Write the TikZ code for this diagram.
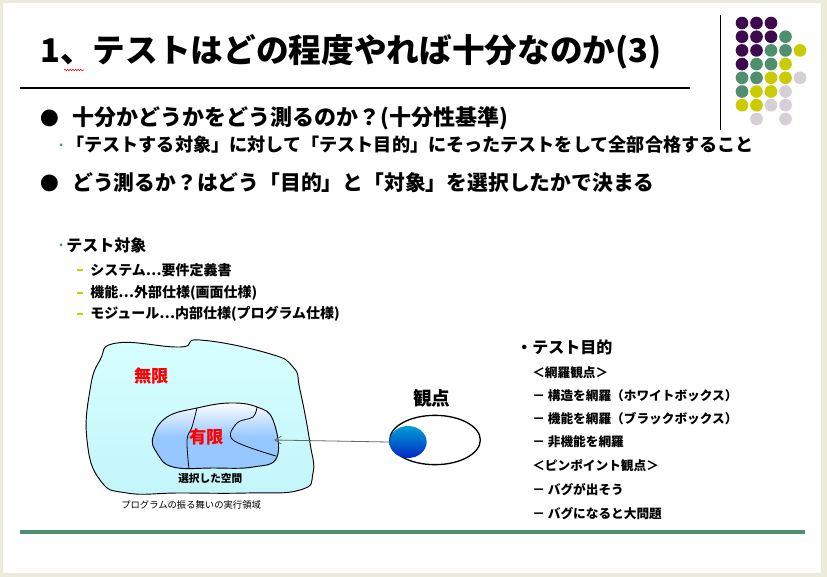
\documentclass[tikz,border=0pt]{standalone}
\usepackage{fontspec}
\setmainfont{Noto Sans CJK JP}
\usetikzlibrary{arrows.meta,decorations.pathmorphing,shapes.geometric}
\definecolor{dp}{HTML}{3D0A4E}
\definecolor{dg}{HTML}{4E8F6E}
\definecolor{dy}{HTML}{C8CC00}
\definecolor{dl}{HTML}{D4D0D6}
\tikzset{
  t/.style={anchor=west,inner sep=0pt,font=\bfseries},
  dot/.style={circle,inner sep=0pt,minimum size=9.5pt},
}
\begin{document}
\begin{tikzpicture}[x=0.75pt,y=-0.75pt]
\fill[fill={rgb,255:red,236;green,235;blue,217}] (0,0) rectangle (827,577);
\fill[white] (3,3) rectangle (821,573);
\useasboundingbox (0,0) rectangle (827,577);
% title
\node[t,font=\bfseries\fontsize{24.5}{28}\selectfont] (title) at (40,52) {1、テストはどの程度やれば十分なのか(3)};
\draw[red,decorate,decoration={snake,segment length=2pt,amplitude=0.6pt}] (64,70) -- (84,70);
\draw[line width=0.8pt] (20,88) -- (690,88);
\draw[line width=0.6pt] (720,15) -- (720,130);
% dots
\foreach \r/\cols in {1/{dp,dp,dp},2/{dp,dp,dp,dg},3/{dp,dp,dg,dg,dy},4/{dp,dg,dg,dy},5/{dg,dg,dy,dy,dl},6/{dg,dy,dy,dl},7/{dy,dy,dl,dl}}{
  \foreach \c [count=\i] in \cols {
    \node[dot,fill=\c] (d\r\i) at ({742+14.5*(\i-1)},{23+13.7*(\r-1)}) {};
  }}
\node[dot,fill=dl] (d82) at (756.5,119) {};
\node[dot,fill=dl] (d84) at (785.5,119) {};
% bullets
\node[t,font=\fontsize{14}{16}\selectfont] (b1) at (40,118) {●};
\node[t,font=\bfseries\fontsize{16.5}{18}\selectfont] (l1) at (72,118) {十分かどうかをどう測るのか？(十分性基準)};
\node[t,font=\fontsize{8}{8}\selectfont,text=dg] (b2) at (59,146) {•};
\node[t,font=\bfseries\fontsize{13.6}{16}\selectfont] (l2) at (66,145) {「テストする対象」に対して「テスト目的」にそったテストをして全部合格すること};
\node[t,font=\fontsize{14}{16}\selectfont] (b3) at (40,183) {●};
\node[t,font=\bfseries\fontsize{15.6}{18}\selectfont] (l3) at (72,183) {どう測るか？はどう「目的」と「対象」を選択したかで決まる};
% test target
\node[t,font=\fontsize{8}{8}\selectfont,text=dg] (b4) at (59,246) {•};
\node[t,font=\bfseries\fontsize{12}{14}\selectfont] (tt) at (66,245) {テスト対象};
\foreach \y/\s [count=\k] in {270/{システム…要件定義書},293/{機能…外部仕様(画面仕様)},314/{モジュール…内部仕様(プログラム仕様)}}{
  \node[t,text=dy] (td\k) at (77,\y) {\rule[-0.4pt]{4.5pt}{0.9pt}};
  \node[t,font=\bfseries\fontsize{10.5}{12}\selectfont] (ti\k) at (90,\y) {\s};
}
% test purpose
\node[t,font=\bfseries\fontsize{12}{14}\selectfont] (tp) at (516,347) {・テスト目的};
\foreach \y/\s [count=\k] in {373/{＜網羅観点＞},396/{－ 構造を網羅（ホワイトボックス）},419/{－ 機能を網羅（ブラックボックス）},442/{－ 非機能を網羅},466/{＜ピンポイント観点＞},490/{－ バグが出そう},514/{－ バグになると大問題}}{
  \node[t,font=\bfseries\fontsize{9.5}{12}\selectfont] (tp\k) at (532,\y) {\s};
}
% bottom line
\draw[line width=3pt,color=dg] (20,532) -- (805,532);
% blob
\draw[line width=0.7pt,top color={rgb,255:red,215;green,255;blue,255},bottom color={rgb,255:red,195;green,245;blue,250}]
 plot[smooth cycle,tension=0.8] coordinates {(100,360) (117,343) (180,347) (200,340) (267,353) (293,367) (300,390) (310,443) (313,473) (300,490) (247,493) (180,493) (127,493) (100,480) (87,440) (90,390)};
\shade[top color=white,bottom color={rgb,255:red,150;green,200;blue,255},middle color={rgb,255:red,150;green,200;blue,255}]
 plot[smooth cycle,tension=0.7] coordinates {(153,437) (167,417) (197,408) (230,403) (257,407) (273,420) (277,457) (253,467) (213,468) (173,467) (157,453)};
\draw[line width=0.7pt] plot[smooth cycle,tension=0.7] coordinates {(153,437) (167,417) (197,408) (230,403) (257,407) (273,420) (277,457) (253,467) (213,468) (173,467) (157,453)};
\draw[line width=0.6pt] plot[smooth,tension=0.6] coordinates {(197,408) (192,427) (187,440) (189,469)};
\draw[line width=0.6pt] plot[smooth,tension=0.6] coordinates {(257,407) (253,417) (237,423) (233,440) (276,456)};
\node[t,font=\bfseries\fontsize{13}{14}\selectfont,text=red] (mugen) at (134,376) {無限};
\node[t,font=\bfseries\fontsize{13}{14}\selectfont,text=red] (yugen) at (189,437) {有限};
\node[t,font=\bfseries\fontsize{8}{9}\selectfont] (sel) at (178,478) {選択した空間};
\node[t,font=\fontsize{7}{8}\selectfont] (prog) at (121,505) {プログラムの振る舞いの実行領域};
% viewpoint
\node[t,font=\bfseries\fontsize{14}{16}\selectfont] (kanten) at (413,398) {観点};
\node[draw,line width=1pt,ellipse,minimum width=68pt,minimum height=37pt,inner sep=0pt] (eye) at (435,440) {};
\node[ellipse,inner sep=0pt,minimum width=28pt,minimum height=24pt,top color={rgb,255:red,0;green,160;blue,210},bottom color={rgb,255:red,0;green,40;blue,200}] (ball) at (408,442) {};
\coordinate (tgt) at (274,440);
\draw[gray!80!black,line width=0.6pt,-{Straight Barb[length=5pt,width=6pt]}] (ball.west) -- (tgt);
\end{tikzpicture}
\end{document}
